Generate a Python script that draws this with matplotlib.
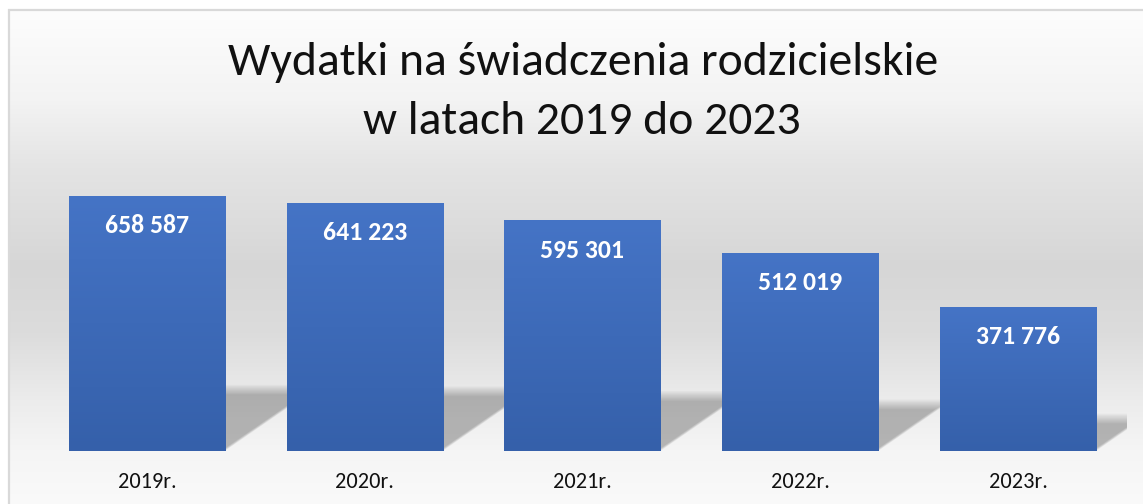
import numpy as np
import matplotlib
matplotlib.use("Agg")
import matplotlib.pyplot as plt
from matplotlib import font_manager as fm
from matplotlib.patches import Polygon
from matplotlib.colors import LinearSegmentedColormap

# ---- data ----
categories = ["2019r.", "2020r.", "2021r.", "2022r.", "2023r."]
values = [658587, 641223, 595301, 512019, 371776]
value_labels = ["658 587", "641 223", "595 301", "512 019", "371 776"]
title_lines = ["Wydatki na świadczenia rodzicielskie", "w latach 2019 do 2023"]

# ---- font choice ----
def pick(fams):
    for f in fams:
        try:
            fm.findfont(fm.FontProperties(family=f), fallback_to_default=False)
            return f
        except Exception:
            pass
    return "DejaVu Sans"
FONT = pick(["Carlito", "Calibri", "Lato", "Open Sans"])
plt.rcParams['font.family'] = [FONT, 'DejaVu Sans']

W, H = 1143, 504
fig = plt.figure(figsize=(W / 100, H / 100), dpi=100)

# ---- background (figure-level) ----
bg = fig.add_axes([0, 0, 1, 1], zorder=-10)
bg.set_xlim(0, W); bg.set_ylim(H, 0); bg.axis('off')
ys = np.arange(H)
stops_y = [0, 9, 10, 100, 167, 267, 333, 400, 450, 504]
stops_v = [255, 255, 253, 243, 228, 214, 220, 236, 245, 250]
g = np.interp(ys, stops_y, stops_v) / 255.0
img = np.repeat(g[:, None], W, axis=1)
img[:, :8] = 1.0
img[:9, :] = 1.0
bg.imshow(np.dstack([img, img, img]), extent=(0, W, H, 0), aspect='auto', interpolation='bilinear')
bg.plot([8, W], [9.5, 9.5], color='#d9d9d9', lw=1.6, solid_capstyle='butt')
bg.plot([8.5, 8.5], [9, H], color='#d9d9d9', lw=1.6, solid_capstyle='butt')

# ---- main axes ----
left_px, right_px, bottom_px, top_px = 38, 1127, 451, 160
YMAX = 751500
ax = fig.add_axes([left_px / W, (H - bottom_px) / H, (right_px - left_px) / W, (bottom_px - top_px) / H])
ax.patch.set_alpha(0)
x = np.arange(len(categories))
ax.set_xlim(-0.5, len(categories) - 0.5)
ax.set_ylim(0, YMAX)
bw = 0.717

bars = ax.bar(x, values, width=bw, color='#3d68b8', zorder=3)

# shadows (perspective, soft)
px_per_x = (right_px - left_px) / (len(categories))
px_per_y = (bottom_px - top_px) / YMAX
for xi, v in zip(x, values):
    hs_px = 0.26 * v * px_per_y
    dx_px = 1.45 * hs_px
    n = 10
    for k in range(n):
        shrink = k * 1.1
        hs = (hs_px - shrink) / px_per_y
        dx = (dx_px - shrink * 1.45) / px_per_x
        r = xi + bw / 2 - shrink * 0.4 / px_per_x
        l = xi - bw / 2
        poly = Polygon([(l, 0), (r, 0), (r + dx, hs), (l + dx, hs)], closed=True,
                       facecolor='black', edgecolor='none', alpha=0.027, zorder=2)
        ax.add_patch(poly)

# bar gradients
cmap = LinearSegmentedColormap.from_list('bg', ['#3560aa', '#4574c6'])
grad = np.linspace(0, 1, 256)[:, None]
for b in bars:
    x0, y0 = b.get_x(), b.get_y()
    im = ax.imshow(grad, cmap=cmap, origin='lower', aspect='auto',
                   extent=(x0, x0 + b.get_width(), y0, y0 + b.get_height()), zorder=4,
                   interpolation='bilinear')
    im.set_clip_path(b)

ax.set_xlim(-0.5, len(categories) - 0.5)
ax.set_ylim(0, YMAX)

for xi, v, lab in zip(x, values, value_labels):
    ax.annotate(lab, (xi, v), xytext=(0, -21.5), textcoords='offset points',
                ha='center', va='center', color='white', fontsize=18.5, fontweight='bold', zorder=6)

ax.set_xticks(x)
ax.set_xticklabels(categories, fontsize=16, color='#111111')
ax.tick_params(axis='x', length=0, pad=15)
ax.set_yticks([])
for s in ax.spines.values():
    s.set_visible(False)

fig.text(583 / W, 1 - 75 / H, title_lines[0], ha='center', va='baseline', fontsize=34.3, color='#111111')
fig.text(582 / W, 1 - 134 / H, title_lines[1], ha='center', va='baseline', fontsize=34.3, color='#111111')

fig.savefig('out.png', dpi=100)
